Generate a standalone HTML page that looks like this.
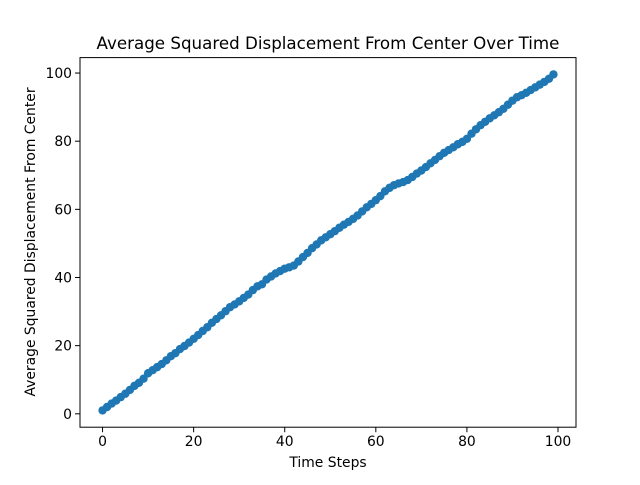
<!DOCTYPE html>
<html><head><meta charset="utf-8"><style>
body{margin:0;background:#fff}
svg text{font-family:"DejaVu Sans","Liberation Sans",sans-serif;fill:#000}
</style></head><body>
<svg id="chart" width="640" height="480" xmlns="http://www.w3.org/2000/svg">
<rect width="640" height="480" fill="#fff"/>
<g id="plot"></g>
<rect x="80" y="57.6" width="496" height="369.6" fill="none" stroke="#000" stroke-width="1"/>
<g id="axes"></g>
<text x="328" y="49" font-size="16.7" text-anchor="middle">Average Squared Displacement From Center Over Time</text>
<text x="328" y="467" font-size="13.9" text-anchor="middle">Time Steps</text>
<text x="0" y="0" font-size="13.9" text-anchor="middle" transform="translate(35,242) rotate(-90)">Average Squared Displacement From Center</text>
</svg>
<script>
const xTicks=[0,20,40,60,80,100];
const yTicks=[0,20,40,60,80,100];
const yValues=[1.0,2.0,3.0,3.9,4.9,5.9,7.0,8.2,9.1,10.3,11.9,12.8,13.7,14.6,15.7,16.9,17.8,19.0,19.9,20.9,22.0,23.1,24.3,25.4,26.7,27.8,28.9,30.1,31.3,32.1,33.0,34.0,35.0,36.3,37.4,38.0,39.4,40.3,41.2,41.9,42.6,43.0,43.5,44.7,46.0,47.2,48.6,49.7,50.9,51.8,52.7,53.6,54.6,55.5,56.3,57.2,58.2,59.4,60.6,61.6,62.7,63.9,65.3,66.3,67.1,67.6,68.0,68.6,69.5,70.5,71.4,72.4,73.5,74.5,75.6,76.6,77.4,78.2,79.1,79.8,80.7,82.2,83.5,84.7,85.7,86.7,87.6,88.5,89.5,90.7,91.9,92.9,93.5,94.2,95.0,95.8,96.6,97.4,98.3,99.6];
const NS="http://www.w3.org/2000/svg";
const L=80,R=576,T=57.6,B=427.2;
const n=yValues.length;
const xmin=0,xmax=n-1,xpad=(xmax-xmin)*0.05;
const ymn=Math.min(...yValues),ymx=Math.max(...yValues),ypad=(ymx-ymn)*0.05;
const X=v=>L+(v-(xmin-xpad))/((xmax+xpad)-(xmin-xpad))*(R-L);
const Y=v=>B-(v-(ymn-ypad))/((ymx+ypad)-(ymn-ypad))*(B-T);
const plot=document.getElementById('plot'),axes=document.getElementById('axes');
function mk(t,a,p){const e=document.createElementNS(NS,t);for(const k in a)e.setAttribute(k,a[k]);p.appendChild(e);return e;}
const line=mk('polyline',{points:yValues.map((v,i)=>X(i)+','+Y(v)).join(' '),fill:'none',stroke:'#1f77b4','stroke-width':2},plot);


yValues.forEach((v,i)=>{const c=mk('circle',{cx:X(i),cy:Y(v),r:4.2,fill:'#1f77b4'},plot);

});
xTicks.forEach(t=>{const x=X(t);
const l=mk('line',{x1:x,x2:x,y1:B,y2:B+5,stroke:'#000'},axes);


const tx=mk('text',{x:x,y:B+19,'font-size':13.9,'text-anchor':'middle'},axes);tx.textContent=t;

});
yTicks.forEach(t=>{const y=Y(t);
const l=mk('line',{x1:L-5,x2:L,y1:y,y2:y,stroke:'#000'},axes);


const tx=mk('text',{x:L-8,y:y+5,'font-size':13.9,'text-anchor':'end'},axes);tx.textContent=t;

});
</script>
</body></html>
